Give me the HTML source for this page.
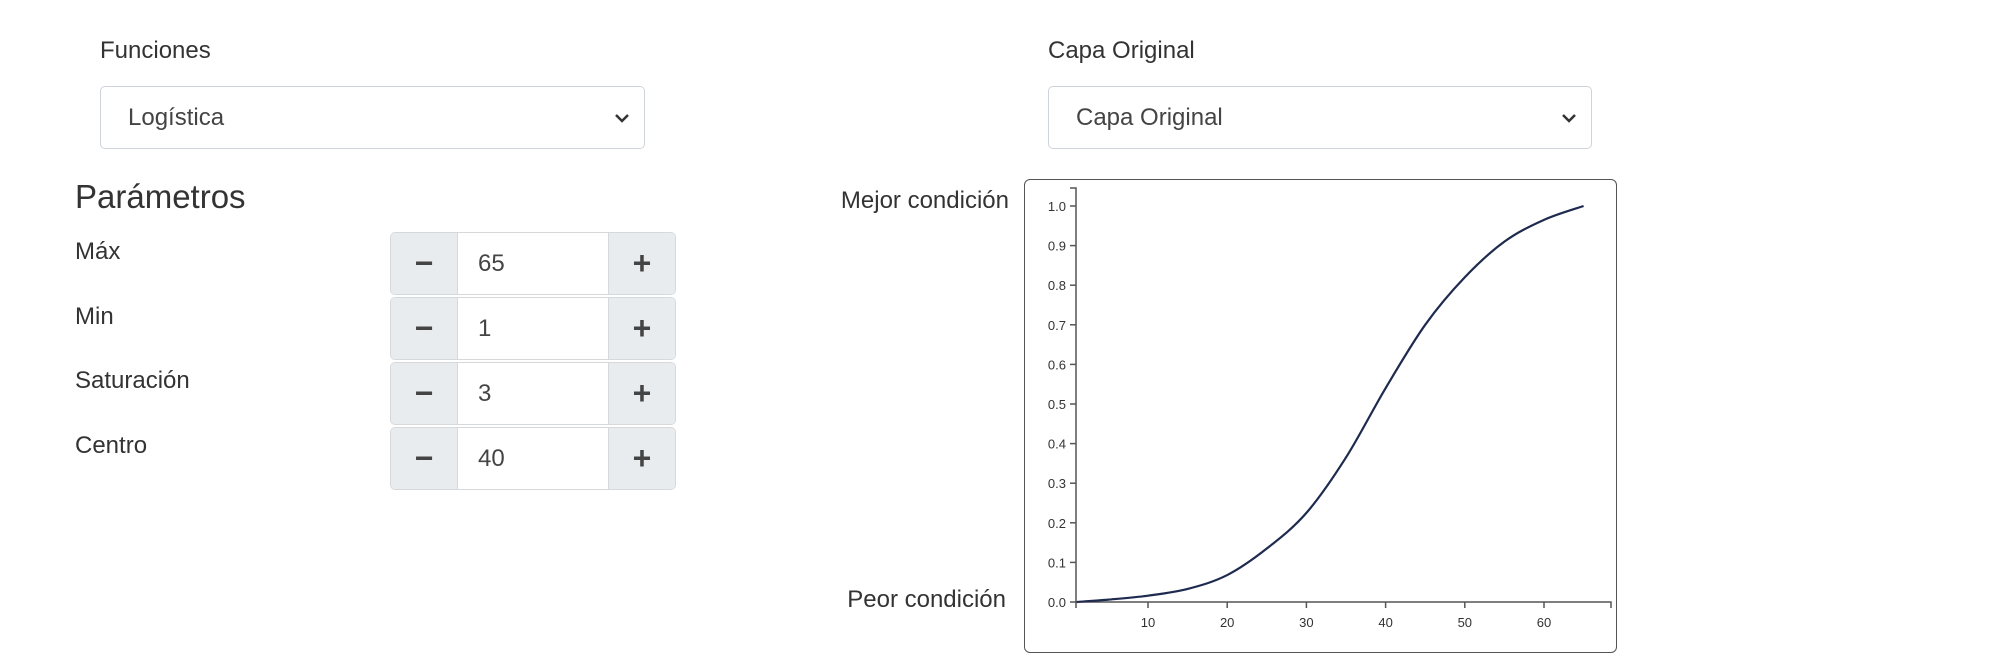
<!DOCTYPE html>
<html><head><meta charset="utf-8">
<style>
body{margin:0;width:1992px;height:663px;background:#fff;font-family:"Liberation Sans",sans-serif;color:#333;position:relative;overflow:hidden}
.abs{position:absolute}
.lbl{font-size:24px;color:#333}
.sel{border:1.5px solid #ced4da;border-radius:5px;background:#fff;box-sizing:border-box}
.sel span{position:absolute;left:27px;top:50%;transform:translateY(-50%);font-size:24px;color:#444}
.sel svg{position:absolute;right:14px;top:50%;margin-top:-5px}
.spin{position:absolute;left:390px;width:286px;height:63px;border:1.5px solid #d6d9dc;border-radius:5px;box-sizing:border-box;overflow:hidden;background:#fff}
.btn{position:absolute;top:0;bottom:0;width:66px;background:#e9ecef;display:flex;align-items:center;justify-content:center;font-size:32px;font-weight:bold;color:#444}
.btn.m{left:0;border-right:1.5px solid #d6d9dc}
.btn.p{right:0;border-left:1.5px solid #d6d9dc}
.val{position:absolute;left:87px;top:50%;transform:translateY(-50%);font-size:24px;color:#444}
</style></head><body>
<div class="abs lbl" style="left:100px;top:37px">Funciones</div>
<div class="abs sel" style="left:100px;top:86px;width:545px;height:63px"><span>Logística</span><svg width="16" height="10"><path d="M2 2 L8 8 L14 2" stroke="#333" stroke-width="2.5" fill="none"/></svg></div>
<div class="abs lbl" style="left:1048px;top:37px">Capa Original</div>
<div class="abs sel" style="left:1048px;top:86px;width:544px;height:63px"><span>Capa Original</span><svg width="16" height="10"><path d="M2 2 L8 8 L14 2" stroke="#333" stroke-width="2.5" fill="none"/></svg></div>
<div class="abs" style="left:75px;top:178px;font-size:33px;color:#333">Parámetros</div>

<div class="abs lbl" style="left:75px;top:238px">Máx</div>
<div class="spin" style="top:232px"><div class="btn m">−</div><div class="val">65</div><div class="btn p">+</div></div>
<div class="abs lbl" style="left:75px;top:303px">Min</div>
<div class="spin" style="top:297px"><div class="btn m">−</div><div class="val">1</div><div class="btn p">+</div></div>
<div class="abs lbl" style="left:75px;top:367px">Saturación</div>
<div class="spin" style="top:362px"><div class="btn m">−</div><div class="val">3</div><div class="btn p">+</div></div>
<div class="abs lbl" style="left:75px;top:432px">Centro</div>
<div class="spin" style="top:427px"><div class="btn m">−</div><div class="val">40</div><div class="btn p">+</div></div>

<div class="abs" style="right:983px;top:187px;font-size:24px;color:#333">Mejor condición</div>
<div class="abs" style="right:986px;top:586px;font-size:24px;color:#333">Peor condición</div>
<div class="abs" style="left:1024px;top:179px;width:593px;height:474px;border:1.5px solid #555;border-radius:6px;box-sizing:border-box"></div>
<svg class="abs" id="chart" style="left:0;top:0" width="1992" height="663"></svg>
<script>
const xVals=[1,5,10,15,20,25,30,35,40,45,50,55,60,65];
const yVals=[0,0.006,0.016,0.033,0.068,0.135,0.225,0.365,0.54,0.7,0.82,0.91,0.965,1.0];
const xTicks=[10,20,30,40,50,60];
const yTicks=[0,0.1,0.2,0.3,0.4,0.5,0.6,0.7,0.8,0.9,1.0];
const NS="http://www.w3.org/2000/svg";
const svg=document.getElementById('chart');
const X=v=>1148+(v-10)*7.92;
const Y=v=>602-v*396;
function mk(t,a){const e=document.createElementNS(NS,t);for(const k in a)e.setAttribute(k,a[k]);svg.appendChild(e);return e;}
const ya=mk('path',{d:`M1070 188 H1076 V602`,stroke:'#555','stroke-width':1.5,fill:'none'});


const xa=mk('path',{d:`M1076 608 V602 H1611 V608`,stroke:'#555','stroke-width':1.5,fill:'none'});


yTicks.forEach(t=>{
  mk('line',{x1:1070,x2:1076,y1:Y(t),y2:Y(t),stroke:'#555','stroke-width':1.5});
  const tx=mk('text',{x:1066,y:Y(t)+5,'text-anchor':'end','font-size':13,fill:'#333','font-family':'Liberation Sans, sans-serif'});
  tx.textContent=t.toFixed(1);
  
  
});
xTicks.forEach(t=>{
  mk('line',{x1:X(t),x2:X(t),y1:602,y2:608,stroke:'#555','stroke-width':1.5});
  const tx=mk('text',{x:X(t),y:627,'text-anchor':'middle','font-size':13,fill:'#333','font-family':'Liberation Sans, sans-serif'});
  tx.textContent=t;
  
  
});
const P=xVals.map((x,i)=>[X(x),Y(yVals[i])]);
let d=`M${P[0][0]} ${P[0][1]}`;
for(let i=0;i<P.length-1;i++){
  const p0=P[Math.max(0,i-1)],p1=P[i],p2=P[i+1],p3=P[Math.min(P.length-1,i+2)];
  const c1=[p1[0]+(p2[0]-p0[0])/6,p1[1]+(p2[1]-p0[1])/6];
  const c2=[p2[0]-(p3[0]-p1[0])/6,p2[1]-(p3[1]-p1[1])/6];
  d+=` C${c1[0]} ${c1[1]} ${c2[0]} ${c2[1]} ${p2[0]} ${p2[1]}`;
}
const ln=mk('path',{d:d,stroke:'#1f2a4f','stroke-width':2.2,fill:'none'});


</script>
</body></html>
